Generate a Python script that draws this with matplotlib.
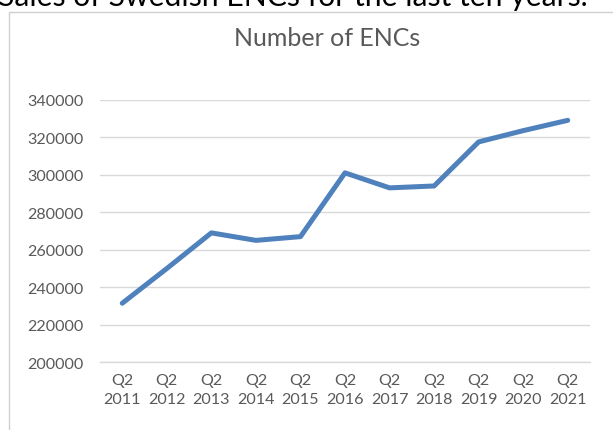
import matplotlib
matplotlib.use("Agg")
import matplotlib.pyplot as plt
from matplotlib.patches import Rectangle

categories = ["Q2\n2011", "Q2\n2012", "Q2\n2013", "Q2\n2014", "Q2\n2015", "Q2\n2016",
              "Q2\n2017", "Q2\n2018", "Q2\n2019", "Q2\n2020", "Q2\n2021"]
values = [231500, 250000, 269000, 265000, 267000, 301000, 293000, 294000, 317500, 323500, 329000]
yticks = [200000, 220000, 240000, 260000, 280000, 300000, 320000, 340000]

W, H = 613, 431
fig = plt.figure(figsize=(W / 100, H / 100), dpi=100)
fig.patch.set_facecolor("white")
plt.rcParams['font.family'] = ['Lato', 'DejaVu Sans']

# chart frame
fig.patches.append(Rectangle((9 / W, -0.05), 1.0, (H - 12.5) / H + 0.05, transform=fig.transFigure,
                             fill=False, edgecolor="#d0d0d0", linewidth=1.0))

# cut-off page text above chart
fig.text(-2 / W, 1 - 6 / H, "Sales of Swedish ENCs for the last ten years.", ha="left", va="baseline",
         fontsize=21.7, color="black")

left, right = 100, 590
top, bottom = 100.7, 363.3
ax = fig.add_axes([left / W, 1 - bottom / H, (right - left) / W, (bottom - top) / H])
x = list(range(len(categories)))
ax.plot(x, values, color="#4f81bd", linewidth=3.6, solid_capstyle="round", solid_joinstyle="round", zorder=3)
ax.set_xlim(-0.5, len(categories) - 0.5)
ax.set_ylim(200000, 340000)
ax.set_yticks(yticks)
ax.set_yticklabels([str(v) for v in yticks])
ax.set_xticks(x)
ax.set_xticklabels(categories, linespacing=1.4)
ax.grid(axis="y", color="#d9d9d9", linewidth=1.0)
ax.set_axisbelow(True)
for s in ["top", "right", "left"]:
    ax.spines[s].set_visible(False)
ax.spines["bottom"].set_color("#d9d9d9")
ax.spines["bottom"].set_linewidth(1.0)
ax.tick_params(axis="both", length=0, labelsize=11.6, labelcolor="#595959")
ax.tick_params(axis="y", pad=12)
ax.tick_params(axis="x", pad=8)

fig.text(327 / W, 1 - 39 / H, "Number of ENCs", ha="center", va="center", fontsize=18, color="#595959")

fig.savefig("out.png", dpi=100)
